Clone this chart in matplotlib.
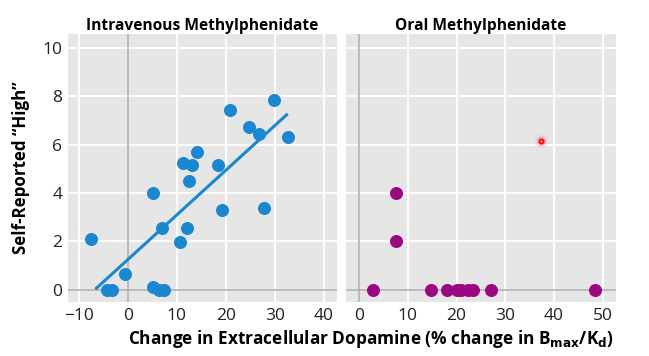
import numpy as np
import matplotlib
matplotlib.use("Agg")
import matplotlib.pyplot as plt

plt.rcParams['font.family'] = ['Open Sans', 'DejaVu Sans']

# intravenous methylphenidate: dopamine change (%) vs self-reported high
iv_x = [-7.5, -4.3, -3.3, -0.6, 5.2, 5.2, 6.4, 7.4, 6.9, 10.7, 12.1, 12.4,
        19.3, 27.8, 11.3, 13.1, 14.1, 18.5, 20.9, 24.8, 26.7, 29.9, 32.6]
iv_y = [2.1, 0.0, 0.0, 0.66, 4.0, 0.1, 0.0, 0.0, 2.55, 1.98, 2.55, 4.5,
        3.32, 3.39, 5.26, 5.14, 5.69, 5.14, 7.44, 6.72, 6.45, 7.85, 6.32]
fit_x = [-6.4, 32.4]
fit_y = [0.07, 7.23]

# oral methylphenidate
oral_x = [7.5, 7.5, 2.9, 14.7, 18.1, 20.0, 20.8, 22.3, 23.3, 27.1, 48.3]
oral_y = [4.0, 2.0, 0, 0, 0, 0, 0, 0, 0, 0, 0]

# laser pointer dot in the screenshot
pointer_x, pointer_y = 37.3, 6.17

blue = '#1b87cf'
purple = '#9c0784'
bg = '#e6e6e6'

fig = plt.figure(figsize=(6.49, 3.56), dpi=100)
ax1 = fig.add_axes([0.1048, 0.1517, 0.4145, 0.7528])
ax2 = fig.add_axes([0.5331, 0.1517, 0.416, 0.7528])

def style(ax, xticks, xlim):
    ax.set_facecolor(bg)
    for s in ax.spines.values():
        s.set_visible(False)
    ax.set_xlim(*xlim)
    ax.set_ylim(-0.5, 10.57)
    ax.set_xticks(xticks)
    ax.set_yticks([0, 2, 4, 6, 8, 10])
    ax.grid(True, color='white', linewidth=1.3)
    ax.set_axisbelow(True)
    ax.tick_params(length=0, labelsize=12.5, colors='#222222', pad=4)
    ax.axvline(0, color='#a8a8a8', linewidth=1.1, zorder=1)
    ax.axhline(0, color='#a8a8a8', linewidth=1.1, zorder=1)

style(ax1, [-10, 0, 10, 20, 30, 40], (-12.2, 42.7))
style(ax2, [0, 10, 20, 30, 40, 50], (-2.7, 52.7))
ax2.set_yticklabels([])

ax1.scatter(iv_x, iv_y, s=88, color=blue, zorder=3, linewidths=0)
ax1.plot(fit_x, fit_y, color=blue, linewidth=2.2, zorder=2)
ax2.scatter(oral_x, oral_y, s=88, color=purple, zorder=3, linewidths=0)

for sz, a in [(90, 0.08), (50, 0.15), (25, 0.3)]:
    ax2.scatter([pointer_x], [pointer_y], s=sz, color='#ff2020', alpha=a,
                linewidths=0, zorder=4)
ax2.scatter([pointer_x], [pointer_y], s=12, color='#ff1010', zorder=5,
            edgecolors='#ff1010', linewidths=0.8)
ax2.scatter([pointer_x], [pointer_y], s=2, color='#ffb0b0', zorder=6,
            linewidths=0)

ax1.set_title('Intravenous Methylphenidate', fontsize=11.2, fontweight='bold',
              pad=2)
ax2.set_title('Oral Methylphenidate', fontsize=11.2, fontweight='bold', pad=2)
ax1.set_ylabel('Self-Reported \u201cHigh\u201d', fontsize=12.2, fontweight='bold',
               labelpad=9)
fig.text(0.572, 0.035, 'Change in Extracellular Dopamine (% change in B$_{\\mathbf{max}}$/K$_{\\mathbf{d}}$)',
         ha='center', fontsize=12.4, fontweight='bold')

fig.savefig('out.png', dpi=100)
